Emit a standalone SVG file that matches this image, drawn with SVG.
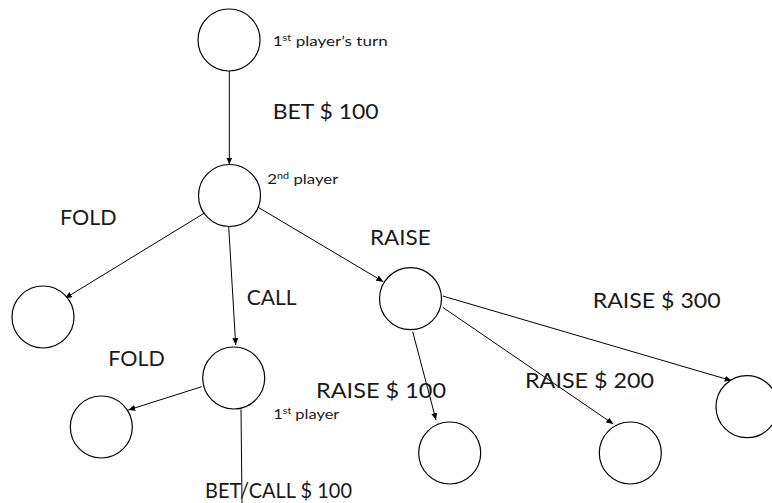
<svg xmlns="http://www.w3.org/2000/svg" width="772" height="503" viewBox="0 0 772 503">
<style>
.node{fill:#fff;stroke:#000;stroke-width:1.2}
.edge{stroke:#000;stroke-width:1;fill:none}
.big{font-family:Lato,"Liberation Sans",sans-serif;font-size:21.5px;fill:#1a1a1a}
.small{font-family:Lato,"Liberation Sans",sans-serif;font-size:14px;fill:#1a1a1a}
.sup{font-size:9px}
</style>
<defs>
<marker id="arr" markerWidth="7" markerHeight="7" refX="7" refY="3.5" orient="auto" markerUnits="userSpaceOnUse">
<path d="M0,0.5 L7,3.5 L0,6.5 z" fill="#000"/>
</marker>
</defs>
<rect width="772" height="503" fill="#fff"/>
<g id="connectors">
<line class="edge" x1="229.3" y1="71" x2="229.3" y2="164.5" marker-end="url(#arr)"/>
<line class="edge" x1="204" y1="213.3" x2="65" y2="298.3" marker-end="url(#arr)"/>
<line class="edge" x1="228.7" y1="226.7" x2="235.7" y2="345" marker-end="url(#arr)"/>
<line class="edge" x1="257.7" y1="207" x2="383.3" y2="281.7" marker-end="url(#arr)"/>
<line class="edge" x1="201.7" y1="386.7" x2="128.3" y2="410" marker-end="url(#arr)"/>
<line class="edge" x1="241" y1="409.3" x2="242" y2="503"/>
<line class="edge" x1="412.7" y1="331.7" x2="436" y2="420" marker-end="url(#arr)"/>
<line class="edge" x1="442.7" y1="307.3" x2="613.3" y2="424" marker-end="url(#arr)"/>
<line class="edge" x1="442.7" y1="296" x2="731.7" y2="380.7" marker-end="url(#arr)"/>
</g>
<g id="n-top"><circle class="node" cx="229" cy="40" r="31"/></g>
<g id="n-second"><circle class="node" cx="229.5" cy="195.5" r="31"/></g>
<g id="n-fold1"><circle class="node" cx="43" cy="317" r="31"/></g>
<g id="n-call"><circle class="node" cx="233.7" cy="378" r="31"/></g>
<g id="n-raise"><circle class="node" cx="410.5" cy="298.7" r="31"/></g>
<g id="n-fold2"><circle class="node" cx="101.3" cy="427" r="31"/></g>
<g id="n-r100"><circle class="node" cx="449.7" cy="453" r="31"/></g>
<g id="n-r200"><circle class="node" cx="630.3" cy="453" r="31"/></g>
<g id="n-r300"><circle class="node" cx="747" cy="406.7" r="31"/></g>
<g id="labels">
<text class="small" x="272.7" y="45.7" textLength="115" lengthAdjust="spacingAndGlyphs">1<tspan class="sup" dy="-5">st</tspan><tspan dy="5"> player’s turn</tspan></text>
<text class="big" x="272.7" y="119.3" textLength="106" lengthAdjust="spacingAndGlyphs">BET $ 100</text>
<text class="small" x="267.3" y="184.3" textLength="71" lengthAdjust="spacingAndGlyphs">2<tspan class="sup" dy="-5">nd</tspan><tspan dy="5"> player</tspan></text>
<text class="big" x="60" y="225" textLength="56.7" lengthAdjust="spacingAndGlyphs">FOLD</text>
<text class="big" x="370" y="245" textLength="60.7" lengthAdjust="spacingAndGlyphs">RAISE</text>
<text class="big" x="246.7" y="305" textLength="50" lengthAdjust="spacingAndGlyphs">CALL</text>
<text class="big" x="592.7" y="308.3" textLength="128" lengthAdjust="spacingAndGlyphs">RAISE $ 300</text>
<text class="big" x="108.3" y="365.7" textLength="56.7" lengthAdjust="spacingAndGlyphs">FOLD</text>
<text class="big" x="316" y="398.3" textLength="130" lengthAdjust="spacingAndGlyphs">RAISE $ 100</text>
<text class="big" x="525" y="388.3" textLength="129" lengthAdjust="spacingAndGlyphs">RAISE $ 200</text>
<text class="small" x="273.3" y="419" textLength="66" lengthAdjust="spacingAndGlyphs">1<tspan class="sup" dy="-5">st</tspan><tspan dy="5"> player</tspan></text>
<text class="big" x="205" y="497.5" textLength="147" lengthAdjust="spacingAndGlyphs">BET/CALL $ 100</text>
</g>
</svg>
